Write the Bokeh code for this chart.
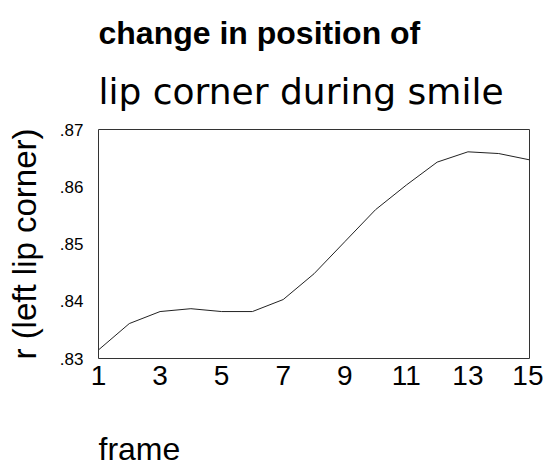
from bokeh.plotting import figure
from bokeh.layouts import column
from bokeh.models import Range1d, FixedTicker, CustomJSTickFormatter, Title
from bokeh.embed import file_html
from bokeh.resources import INLINE

frames = list(range(1, 16))
r_left_lip = [0.8315, 0.8361, 0.8382, 0.8387, 0.8382, 0.8382, 0.8403, 0.8448,
              0.8504, 0.8560, 0.8603, 0.8643, 0.8661, 0.8658, 0.8647]
x_ticks = [1, 3, 5, 7, 9, 11, 13, 15]
y_ticks = [0.83, 0.84, 0.85, 0.86, 0.87]
title_1 = "change in position of"
title_2 = "lip corner during smile"
x_label = "frame"
y_label = "r (left lip corner)"

p = figure(width=543, height=400, output_backend="svg", toolbar_location=None,
           x_range=Range1d(1, 15), y_range=Range1d(0.83, 0.87),
           min_border_left=98, min_border_right=14, min_border_top=129,
           min_border_bottom=42, title=None)
p.background_fill_color = "white"
p.border_fill_color = "white"
p.outline_line_color = "#333333"
p.outline_line_width = 1
p.grid.visible = False

p.line(frames, r_left_lip, line_color="#222222", line_width=1)

p.xaxis.ticker = FixedTicker(ticks=x_ticks)
p.yaxis.ticker = FixedTicker(ticks=y_ticks)
p.yaxis.formatter = CustomJSTickFormatter(code="return tick.toFixed(2).replace(/^0/, '');")
for ax in (p.xaxis[0], p.yaxis[0]):
    ax.axis_line_color = None
    ax.major_tick_line_color = None
    ax.minor_tick_line_color = None
    ax.major_tick_in = 0
    ax.major_tick_out = 0
    ax.minor_tick_in = 0
    ax.minor_tick_out = 0
    ax.major_label_text_color = "black"
    ax.axis_label_text_color = "black"
    ax.axis_label_text_font = "Liberation Sans"
    ax.axis_label_text_font_style = "normal"

p.xaxis.major_label_text_font = "Liberation Sans"
p.xaxis.major_label_text_font_size = "28px"
p.xaxis.major_label_standoff = 7
p.yaxis.major_label_text_font = "Liberation Sans"
p.yaxis.major_label_text_font_size = "17px"
p.yaxis.major_label_standoff = 15

# y axis label
p.yaxis.axis_label = y_label
p.yaxis.axis_label_text_font_size = "33px"
p.yaxis.axis_label_standoff = 14

t2 = Title(text=title_2, align="left", text_font="DejaVu Sans",
           text_font_size="36px", text_font_style="normal", text_color="black",
           standoff=36)
t1 = Title(text=title_1, align="left", text_font="Liberation Sans",
           text_font_size="32px", text_font_style="bold", text_color="black",
           standoff=0)
p.add_layout(t2, "above")
p.add_layout(t1, "above")

# strip below the chart holding the left-aligned x axis title
q = figure(width=543, height=68, output_backend="svg", toolbar_location=None,
           x_axis_type=None, y_axis_type=None, title=None,
           x_range=Range1d(0, 1), y_range=Range1d(0, 1),
           min_border_left=98, min_border_right=14, min_border_top=66,
           min_border_bottom=0)
q.outline_line_color = None
q.grid.visible = False
q.background_fill_color = "white"
q.border_fill_color = "white"
tx = Title(text=x_label, align="left", text_font="Liberation Sans",
           text_font_size="32px", text_font_style="normal", text_color="black",
           standoff=0)
q.add_layout(tx, "above")

layout = column(p, q, spacing=0)
open("out.html", "w").write(file_html(layout, INLINE))
